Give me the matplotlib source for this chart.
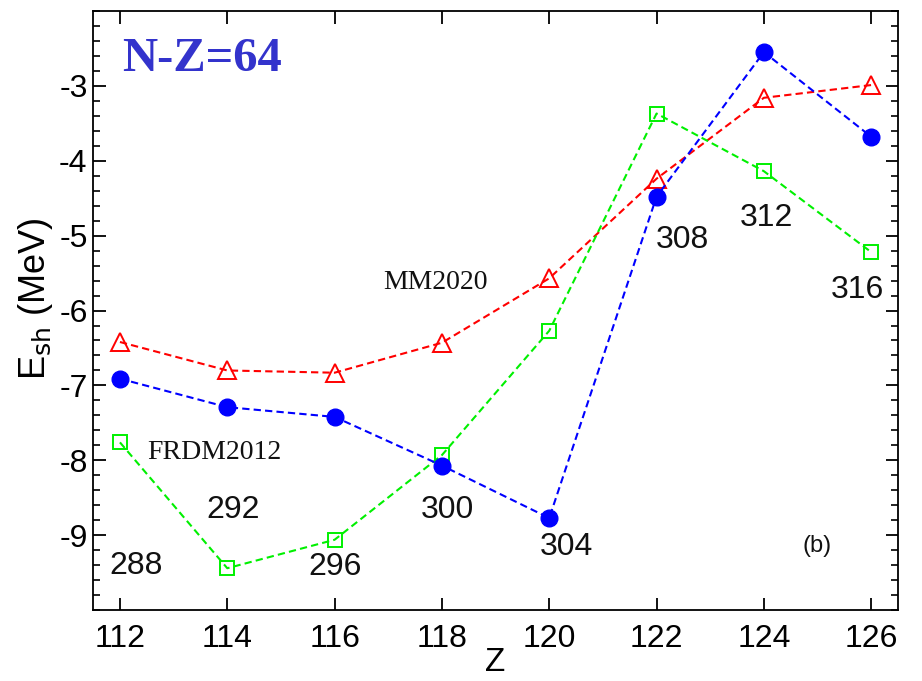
import matplotlib
matplotlib.use('Agg')
import matplotlib.pyplot as plt
from matplotlib.ticker import MultipleLocator

# Shell correction energies along N-Z = 64
z = [112, 114, 116, 118, 120, 122, 124, 126]
e_blue = [-6.91, -7.29, -7.42, -8.07, -8.77, -4.48, -2.55, -3.68]
e_mm2020 = [-6.42, -6.80, -6.83, -6.43, -5.57, -4.24, -3.16, -2.99]
e_frdm2012 = [-7.76, -9.44, -9.06, -7.93, -6.27, -3.37, -4.14, -5.22]

mass_labels = ['288', '292', '296', '300', '304', '308', '312', '316']
mass_x = [112.30, 114.10, 116.01, 118.10, 120.32, 122.49, 124.04, 125.74]
mass_y = [-9.41, -8.66, -9.43, -8.66, -9.16, -5.06, -4.77, -5.73]

plt.rcParams['font.family'] = ['Liberation Sans', 'DejaVu Sans']
plt.rcParams['axes.unicode_minus'] = False

fig = plt.figure(figsize=(9.22, 6.81), dpi=100)
ax = fig.add_axes([0.101, 0.104, 0.873, 0.880])

dash = (0, (3.5, 2))
ax.plot(z, e_mm2020, linestyle=dash, color='#ff0000', linewidth=1.5,
        marker='^', markersize=13, markerfacecolor='none',
        markeredgecolor='#ff0000', markeredgewidth=1.4, zorder=3)
ax.plot(z, e_frdm2012, linestyle=dash, color='#00f000', linewidth=1.5,
        marker='s', markersize=10, markerfacecolor='none',
        markeredgecolor='#00f000', markeredgewidth=1.4, zorder=3)
ax.plot(z, e_blue, linestyle=dash, color='#0000ff', linewidth=1.5,
        marker='o', markersize=12, markerfacecolor='#0000ff',
        markeredgecolor='#0000ff', zorder=4)

for lab, xx, yy in zip(mass_labels, mass_x, mass_y):
    ax.text(xx, yy, lab, ha='center', va='center', fontsize=23, color='#111')

ax.text(117.88, -5.62, 'MM2020', ha='center', va='center', fontsize=20,
        family='Liberation Serif', color='#111')
ax.text(113.75, -7.90, 'FRDM2012', ha='center', va='center', fontsize=20,
        family='Liberation Serif', color='#111')
ax.text(125.0, -9.14, '(b)', ha='center', va='center', fontsize=17, color='#111')
ax.text(113.53, -2.645, 'N-Z=64', ha='center', va='center', fontsize=35,
        family='Liberation Serif', fontweight='bold', color='#3333cc')

ax.set_xlim(111.5, 126.5)
ax.set_ylim(-10, -2)
ax.set_xticks(z)
ax.set_yticks([-9, -8, -7, -6, -5, -4, -3])
ax.yaxis.set_minor_locator(MultipleLocator(0.2))

ax.tick_params(axis='both', which='major', direction='in', length=9, width=1.3,
               labelsize=23, top=True, right=True)
ax.tick_params(axis='y', which='minor', direction='in', length=5, width=1.2,
               right=True, left=True)
ax.tick_params(axis='x', which='major', pad=10)
ax.tick_params(axis='y', which='major', pad=4)
for s in ax.spines.values():
    s.set_linewidth(1.3)

ax.set_xlabel('Z', fontsize=24, labelpad=-5)
ax.set_ylabel('E$_{\\mathrm{sh}}$ (MeV)', fontsize=26, labelpad=0)
ax.yaxis.set_label_coords(-0.047, 0.52)

fig.savefig('out.png', dpi=100)
